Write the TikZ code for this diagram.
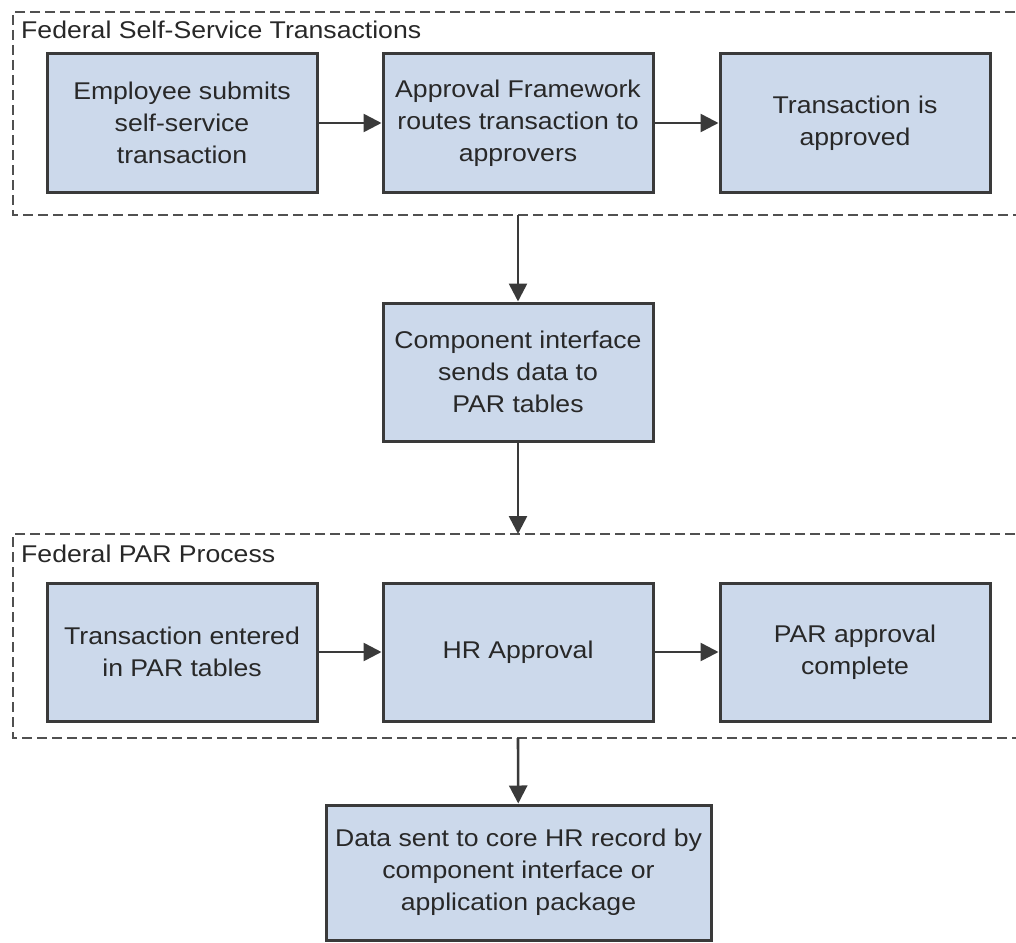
\documentclass[tikz,border=0pt]{standalone}
\usepackage{fontspec}
\setmainfont[FakeStretch=1.1]{Liberation Sans}
\usetikzlibrary{arrows.meta}
\definecolor{boxfill}{RGB}{204,217,235}
\definecolor{boxline}{RGB}{58,58,58}
\definecolor{txt}{RGB}{40,40,40}
\definecolor{dashcol}{RGB}{80,80,80}
\tikzset{
  procbox/.style={draw=boxline, line width=3pt, fill=boxfill, text=txt,
    align=center, inner sep=0pt, minimum width=270pt, minimum height=138pt,
    font=\fontsize{24.2}{32}\selectfont},
  widebox/.style={procbox, minimum width=385pt, minimum height=135pt},
  grp/.style={draw=dashcol, line width=2.6pt, dash pattern=on 10pt off 5pt},
  grplabel/.style={anchor=base west, inner sep=0pt, text=txt,
    font=\fontsize{24.2}{32}\selectfont},
  flow/.style={draw=boxline, line width=2.6pt,
    -{Triangle[length=18pt,width=18pt]}}
}
\begin{document}
\begin{tikzpicture}[x=1pt,y=-1pt]
\useasboundingbox (0,0) rectangle (1016,942);
% group frames (open at the right edge, as in the picture)
\draw[grp] (1030,12) -- (13,12) -- (13,215) -- (1030,215);
\draw[grp] (1030,534) -- (13,534) -- (13,738) -- (1030,738);
\node[grplabel] (lab1) at (21,38) {Federal Self-Service Transactions};
\node[grplabel] (lab2) at (21,562) {Federal PAR Process};
\coordinate (g1b) at (518,215);
\coordinate (g2t) at (518,534);
\coordinate (g2b) at (518,738);
% boxes
\node[procbox] (b1) at (182,123) {Employee submits\\self-service\\transaction};
\node[procbox] (b2) at (518,123) {Approval Framework\\routes transaction to\\approvers};
\node[procbox] (b3) at (855,123) {Transaction is\\approved};
\node[procbox] (m) at (518,372) {Component interface\\sends data to\\PAR tables};
\node[procbox] (c1) at (182,652) {Transaction entered\\in PAR tables};
\node[procbox] (c2) at (518,652) {HR Approval};
\node[procbox] (c3) at (855,652) {PAR approval\\complete};
\node[widebox] (d) at (518.5,872.5) {Data sent to core HR record by\\component interface or\\application package};
% connectors
\draw[flow] (b1) -- (b2);
\draw[flow] (b2) -- (b3);
\draw[flow] (g1b) -- (m);
\draw[flow] (m) -- (g2t);
\draw[flow] (c1) -- (c2);
\draw[flow] (c2) -- (c3);
\draw[flow] (g2b) -- (d);
\end{tikzpicture}
\end{document}
